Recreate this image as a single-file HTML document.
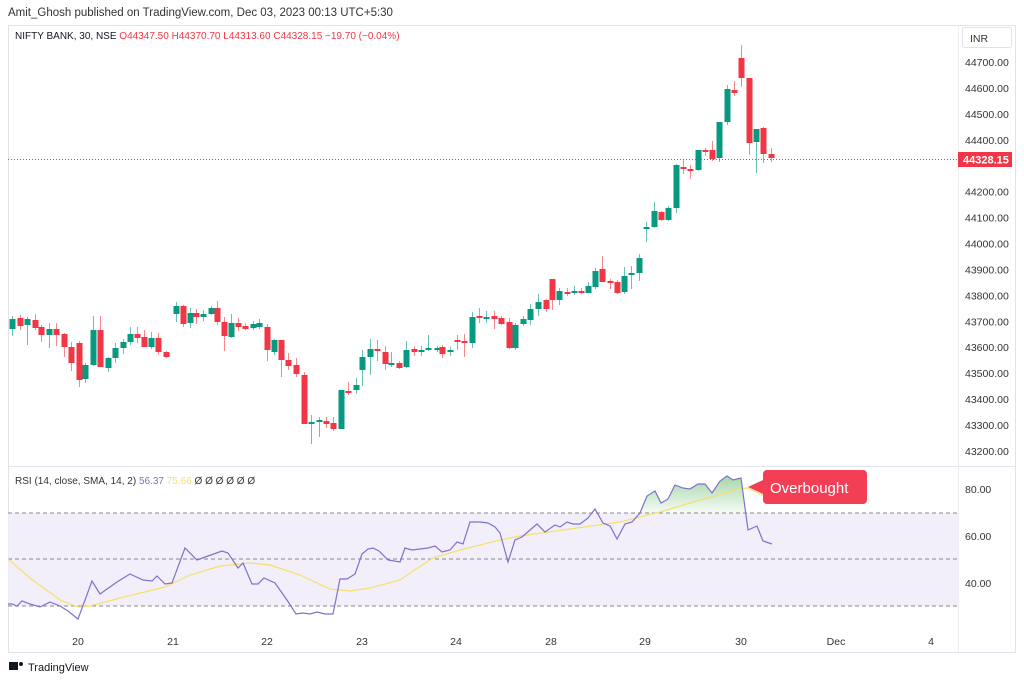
<!DOCTYPE html>
<html><head><meta charset="utf-8"><style>
body{margin:0;background:#fff;width:1024px;height:683px;overflow:hidden;font-family:"Liberation Sans",sans-serif}
svg text{font-family:"Liberation Sans",sans-serif}
</style></head><body>
<svg id="s" width="1024" height="683" xmlns="http://www.w3.org/2000/svg">
<rect x="0" y="0" width="1024" height="683" fill="#fff"/>
<text x="8" y="16" font-size="11.5" fill="#333">Amit_Ghosh published on TradingView.com, Dec 03, 2023 00:13 UTC+5:30</text>
<rect x="8.5" y="25.5" width="1007" height="627" fill="none" stroke="#e0e3eb"/>
<line x1="8" y1="466.5" x2="1015" y2="466.5" stroke="#e0e3eb"/>
<line x1="958.5" y1="25" x2="958.5" y2="652" stroke="#eceef2"/>
<text x="15" y="39" font-size="10" fill="#131722">NIFTY BANK, 30, NSE <tspan fill="#f23645">O44347.50  H44370.70  L44313.60  C44328.15  −19.70 (−0.04%)</tspan></text>
<rect x="962.5" y="27.5" width="49" height="20" rx="2" fill="#fff" stroke="#e0e3eb"/>
<text x="970" y="42" font-size="10.5" fill="#333">INR</text>
<g id="px" font-size="10.5" fill="#333"></g>
<line x1="8" y1="159.5" x2="958" y2="159.5" stroke="#f23645" stroke-dasharray="1,2"/>
<g id="c"></g>
<rect x="958" y="152" width="54" height="15" fill="#f23645"/>
<text x="963" y="163.5" font-size="11" fill="#fff" font-weight="bold">44328.15</text>
<rect x="8" y="513" width="950" height="93" fill="#f0ecfa" opacity="0.85"/>
<g stroke="#888" stroke-dasharray="4,3" stroke-width="1">
<line x1="8" y1="513" x2="958" y2="513"/><line x1="8" y1="559" x2="958" y2="559"/><line x1="8" y1="606" x2="958" y2="606"/></g>
<defs><linearGradient id="g" x1="0" y1="0" x2="0" y2="1"><stop offset="0" stop-color="#4caf50" stop-opacity="0.5"/><stop offset="1" stop-color="#4caf50" stop-opacity="0.05"/></linearGradient></defs>
<polygon points="637,513 640,513 647,496 655,491 661,503 668,499 675,485 683,488 690,489 698,484 705,484 712,493 720,481 727,476 733,480 741,478 745,513" fill="url(#g)"/>
<polyline fill="none" stroke="#f5e06b" stroke-width="1.2" points="8,559 30,578 60,600 78,607 90,606 120,598 165,587 190,575 220,566 250,563 270,565 300,575 330,589 350,591 370,588 400,580 410,573 433,558 460,550 500,540 520,536 570,529 620,522 660,512 700,500 740,489 748,488 770,499"/>
<polyline fill="none" stroke="#7e72c9" stroke-width="1.2" points="8,604 12,604 17,606 22,601 30,604 40,607 50,602 60,606 68,611 78,619 92,581 100,594 117,582 130,574 143,580 152,581 157,576 165,584 172,583 185,548 197,560 208,556 222,551 228,553 238,568 243,563 252,584 258,584 264,578 275,583 287,600 296,614 303,613 310,614 317,612 325,614 333,614 340,579 347,579 355,574 362,554 368,549 373,548 379,551 388,560 400,562 405,548 412,550 420,549 428,548 435,546 442,552 450,550 457,542 463,544 470,522 480,522 488,523 495,527 500,533 508,562 515,540 522,537 530,530 537,524 545,532 555,525 560,527 567,522 573,524 580,524 588,518 595,509 603,523 610,526 617,539 625,524 632,522 640,513 647,496 655,491 661,503 668,499 675,485 683,488 690,489 698,484 705,484 712,493 720,481 727,476 733,480 741,478 748,530 757,526 763,541 772,544"/>
<text x="15" y="484" font-size="10" fill="#333">RSI (14, close, SMA, 14, 2) <tspan fill="#7e72c9">56.37</tspan> <tspan fill="#f5e06b">75.66</tspan> Ø Ø Ø Ø Ø Ø</text>
<path d="M767,470 H863 a4,4 0 0 1 4,4 V500 a4,4 0 0 1 -4,4 H767 a4,4 0 0 1 -4,-4 V494 L748,487 L763,480 V474 a4,4 0 0 1 4,-4Z" fill="#f23f55"/>
<text x="770" y="493" font-size="15" fill="#fff">Overbought</text>
<g font-size="10.5" fill="#333"><text x="965" y="493">80.00</text><text x="965" y="540">60.00</text><text x="965" y="587">40.00</text></g>
<g font-size="10.5" fill="#333" text-anchor="middle"><text x="78" y="645">20</text><text x="173" y="645">21</text><text x="267" y="645">22</text><text x="362" y="645">23</text><text x="456" y="645">24</text><text x="551" y="645">28</text><text x="645" y="645">29</text><text x="741" y="645">30</text><text x="836" y="645">Dec</text><text x="931" y="645">4</text></g>
<rect x="9" y="662" width="9" height="8" fill="#131722"/><circle cx="21" cy="664" r="2" fill="#131722"/>
<text x="28" y="671" font-size="11" fill="#131722">TradingView</text>
</svg>
<script>
var NS="http://www.w3.org/2000/svg";
var px=document.getElementById("px");
for(var p=44700;p>=43200;p-=100){var y=62+(44700-p)*0.2593;if(Math.abs(y-159)<8)continue;var t=document.createElementNS(NS,"text");t.setAttribute("x",965);t.setAttribute("y",y+4);t.textContent=p.toFixed(2);px.appendChild(t);}
var d=[[12,'G',319,329,316,336],[20,'R',318,326,315,330],[27,'G',319,325,317,345],[35,'R',320,328,314,330],[41,'R',327,335,325,342],[49,'G',329,335,323,348],[56,'R',329,335,323,346],[64,'R',334,347,333,357],[71,'R',347,363,342,371],[79,'R',343,380,341,387],[85,'G',365,379,363,383],[93,'G',330,365,316,366],[100,'R',330,367,316,367],[108,'G',358,368,357,372],[115,'G',348,358,343,363],[123,'G',342,348,339,354],[130,'G',334,342,327,345],[137,'R',334,338,327,343],[144,'R',337,347,330,347],[151,'G',338,347,332,349],[158,'R',338,352,333,355],[166,'R',352,357,351,358],[176,'G',306,314,302,322],[183,'R',306,324,305,327],[190,'G',313,323,308,328],[196,'R',313,317,309,324],[203,'G',314,317,310,321],[211,'G',308,314,306,315],[217,'R',308,322,301,325],[224,'R',322,336,317,351],[231,'G',323,337,314,338],[238,'R',323,327,318,331],[245,'R',326,329,323,330],[253,'G',324,328,321,330],[259,'G',323,327,319,329],[267,'R',327,350,324,361],[274,'G',340,352,339,355],[281,'R',340,360,340,377],[288,'R',360,366,353,370],[296,'R',365,374,358,377],[304,'R',375,424,372,424],[311,'G',422,424,415,444],[319,'G',420,422,417,437],[326,'R',421,424,417,428],[333,'R',423,429,417,431],[341,'G',390,429,390,429],[348,'R',391,392,382,395],[356,'G',385,390,378,394],[362,'G',357,370,350,386],[370,'G',349,357,339,375],[377,'R',349,351,340,361],[385,'R',352,364,346,370],[391,'G',363,364,352,367],[399,'R',363,368,361,369],[406,'G',350,367,341,368],[414,'R',349,352,346,356],[421,'G',350,352,346,356],[428,'G',348,350,335,351],[437,'G',348,349,346,352],[442,'R',347,354,345,358],[450,'G',350,351,347,356],[457,'R',340,342,335,350],[464,'R',341,343,334,357],[472,'G',317,343,312,348],[479,'R',316,317,308,323],[486,'G',317,318,311,323],[494,'R',316,319,311,329],[501,'R',318,324,316,325],[509,'R',322,348,318,349],[515,'G',325,348,323,350],[523,'G',319,324,316,326],[530,'G',309,320,304,325],[538,'G',302,309,294,316],[546,'R',300,309,299,312],[552,'R',279,300,279,310],[559,'G',291,300,288,305],[567,'R',292,294,288,296],[574,'G',291,293,286,295],[581,'R',291,293,288,294],[588,'G',286,293,282,293],[595,'G',271,287,268,289],[602,'R',269,282,256,282],[610,'R',281,283,279,289],[617,'R',282,293,280,294],[624,'G',276,292,267,294],[631,'G',273,275,266,289],[639,'G',258,273,254,281],[646,'G',227,229,222,242],[654,'G',211,227,202,228],[661,'R',212,220,211,221],[668,'G',208,220,206,221],[676,'G',165,208,164,213],[683,'R',167,169,159,174],[690,'R',169,170,165,179],[698,'G',150,170,150,171],[705,'R',150,151,148,156],[712,'R',150,159,141,161],[719,'G',122,158,122,162],[727,'G',89,122,85,125],[734,'R',90,93,81,96],[741,'R',58,78,45,87],[749,'R',78,143,78,155],[756,'G',129,142,129,173],[763,'R',128,154,127,163],[771,'R',154,158,148,162]];
var g=document.getElementById("c");
d.forEach(function(c){var col=c[1]=='G'?'#089981':'#f23645';
var l=document.createElementNS(NS,"line");l.setAttribute("x1",c[0]+0.5);l.setAttribute("x2",c[0]+0.5);l.setAttribute("y1",c[4]);l.setAttribute("y2",c[5]);l.setAttribute("stroke",col);l.setAttribute("stroke-opacity","0.6");g.appendChild(l);
var r=document.createElementNS(NS,"rect");r.setAttribute("x",c[0]-2.5);r.setAttribute("width",6);r.setAttribute("y",c[2]);r.setAttribute("height",Math.max(2,c[3]-c[2]));r.setAttribute("fill",col);g.appendChild(r);});
</script>
</body></html>
